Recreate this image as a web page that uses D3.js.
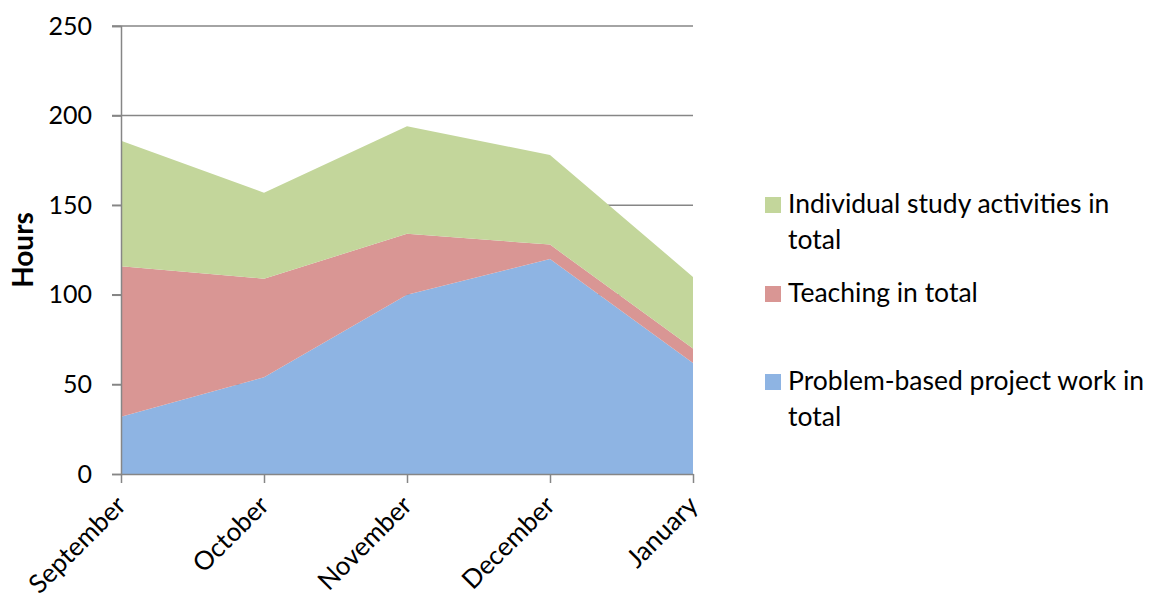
<!DOCTYPE html>
<html>
<head>
<meta charset="utf-8">
<script src="https://cdn.jsdelivr.net/npm/d3@7"></script>
<style>
  html, body { margin: 0; padding: 0; background: #fff; }
  svg { display: block; font-family: Lato, "Open Sans", sans-serif; }
</style>
</head>
<body>
<div id="chart"></div>
<script>
const months = ['September', 'October', 'November', 'December', 'January'];
const projectWork = [32, 54, 100, 120, 62];
const teaching = [84, 55, 34, 8, 8];
const individual = [70, 48, 60, 50, 40];
const yTicks = [0, 50, 100, 150, 200, 250];

const series = [
  { key: 'project', name: ['Problem-based project work in', 'total'], values: projectWork, color: '#8eb4e3' },
  { key: 'teaching', name: ['Teaching in total'], values: teaching, color: '#d99694' },
  { key: 'individual', name: ['Individual study activities in', 'total'], values: individual, color: '#c3d69b' },
];

const canvasWidth = 1161;
const canvasHeight = 602;
const margins = { top: 26, left: 121, right: 468, bottom: 128 };
const width = canvasWidth - margins.left - margins.right;
const height = canvasHeight - margins.top - margins.bottom;

const rows = months.map((m, i) => {
  const row = { month: m };
  series.forEach(s => { row[s.key] = s.values[i]; });
  return row;
});

const stack = d3.stack().keys(series.map(s => s.key));
const layers = stack(rows);

const svg = d3.select('#chart')
  .append('svg')
    .attr('width', canvasWidth)
    .attr('height', canvasHeight);

const g = svg.append('g')
  .attr('transform', `translate(${margins.left}, ${margins.top})`);

const scaleX = d3.scalePoint()
  .domain(months)
  .range([0, width]);
const scaleY = d3.scaleLinear()
  .domain([0, 250])
  .range([height, 0]);

// gridlines
g.append('g')
  .selectAll('line')
  .data(yTicks.filter(d => d > 0))
  .enter()
  .append('line')
    .attr('x1', -9)
    .attr('x2', width)
    .attr('y1', d => scaleY(d))
    .attr('y2', d => scaleY(d))
    .attr('stroke', '#868686')
    .attr('stroke-width', 1.5);

// areas
const area = d3.area()
  .x(d => scaleX(d.data.month))
  .y0(d => scaleY(d[0]))
  .y1(d => scaleY(d[1]));

g.append('g')
  .selectAll('path')
  .data(layers)
  .enter()
  .append('path')
    .attr('fill', (d, i) => series[i].color)
    .attr('d', area);

// y axis
const axisY = d3.axisLeft(scaleY)
  .tickValues(yTicks)
  .tickSize(9)
  .tickPadding(20);
const y = g.append('g').call(axisY);
y.select('.domain').attr('stroke', '#868686').attr('stroke-width', 1.5);
y.selectAll('.tick line').attr('stroke', '#868686').attr('stroke-width', 1.5);
y.selectAll('.tick text')
  .attr('font-size', 25)
  .attr('font-family', 'Lato, sans-serif')
  .attr('fill', '#000');

// x axis
const axisX = d3.axisBottom(scaleX)
  .tickSize(9)
  .tickSizeOuter(0);
const x = g.append('g')
  .attr('transform', `translate(0, ${height})`)
  .call(axisX);
x.select('.domain').attr('stroke', '#868686').attr('stroke-width', 1.5);
x.selectAll('.tick line').attr('stroke', '#868686').attr('stroke-width', 1.5);
x.selectAll('.tick text')
  .attr('font-size', 26)
  .attr('font-family', 'Lato, sans-serif')
  .attr('fill', '#000')
  .attr('text-anchor', 'end')
  .attr('dy', null)
  .attr('y', 0)
  .attr('transform', 'translate(6, 33) rotate(-45)');

// y title
svg.append('text')
  .attr('transform', `translate(33, ${margins.top + scaleY(125)}) rotate(-90)`)
  .attr('text-anchor', 'middle')
  .attr('font-size', 28)
  .attr('font-weight', 'bold')
  .text('Hours');

// legend
const legendBaselines = [213, 302, 390];
const legend = svg.append('g')
  .attr('transform', 'translate(765, 0)');
series.slice().reverse().forEach((s, i) => {
  const item = legend.append('g')
    .attr('transform', `translate(0, ${legendBaselines[i]})`);
  item.append('rect')
    .attr('y', -16)
    .attr('width', 16)
    .attr('height', 16)
    .attr('fill', s.color);
  s.name.forEach((line, j) => {
    item.append('text')
      .attr('x', 23)
      .attr('y', j * 36)
      .attr('font-size', 26.5)
      .attr('fill', '#000')
      .text(line);
  });
});
</script>
</body>
</html>
